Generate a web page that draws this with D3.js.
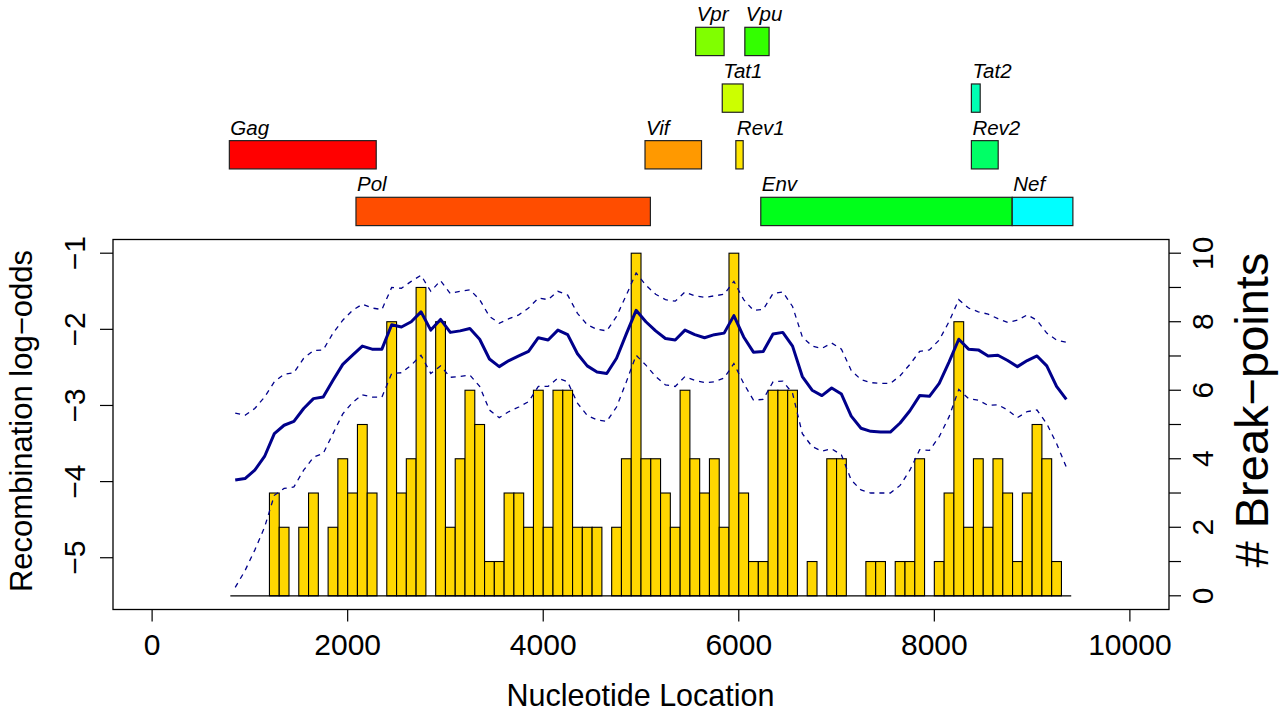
<!DOCTYPE html>
<html>
<head>
<meta charset="utf-8">
<script src="https://cdn.jsdelivr.net/npm/d3@7"></script>
<style>
  body { margin: 0; background: #fff; }
  text { font-family: "Liberation Sans", Arial, sans-serif; fill: #000; }
</style>
</head>
<body>
<div id="chart"></div>
<script>
// genes (HXB2 coordinates), listed in colour order
var geneNames = ["Gag", "Pol", "Vif", "Rev1", "Tat1", "Vpr", "Vpu", "Env", "Rev2", "Tat2", "Nef"];
var geneStart = [790, 2085, 5041, 5970, 5831, 5559, 6062, 6225, 8379, 8379, 8797];
var geneEnd   = [2292, 5096, 5619, 6045, 6045, 5850, 6310, 8795, 8653, 8469, 9417];
var geneRow   = [1, 0, 1, 1, 2, 3, 3, 0, 1, 2, 0];

// break-point counts in 100 nt windows, starting at 800
var binStarts = d3.range(800, 9400, 100);
var breakCounts = [
  0, 0, 0, 0, 3, 2, 0, 2, 3, 0,
  2, 4, 3, 5, 3, 0, 8, 3, 4, 9,
  0, 8, 2, 4, 6, 5, 1, 1, 3, 3,
  2, 6, 2, 6, 6, 2, 2, 2, 0, 2,
  4, 10, 4, 4, 3, 2, 6, 4, 3, 4,
  2, 10, 3, 1, 1, 6, 6, 6, 0, 1,
  0, 4, 4, 0, 0, 1, 1, 0, 1, 1,
  4, 0, 1, 3, 8, 2, 4, 2, 4, 3,
  1, 3, 5, 4, 1, 0
];

// recombination log-odds: estimate and band
var logOdds = [
  -3.98, -3.96, -3.85, -3.67, -3.37, -3.26, -3.21, -3.04, -2.91, -2.89,
  -2.67, -2.46, -2.34, -2.22, -2.26, -2.26, -1.94, -1.97, -1.90, -1.77,
  -2.01, -1.87, -2.04, -2.02, -1.99, -2.13, -2.39, -2.49, -2.41, -2.35,
  -2.29, -2.11, -2.14, -2.01, -2.07, -2.32, -2.48, -2.56, -2.58, -2.38,
  -2.06, -1.75, -1.90, -2.02, -2.12, -2.14, -2.01, -2.07, -2.11, -2.07,
  -2.05, -1.82, -2.10, -2.30, -2.29, -2.06, -2.04, -2.22, -2.62, -2.80,
  -2.87, -2.77, -2.85, -3.14, -3.30, -3.34, -3.35, -3.35, -3.23, -3.07,
  -2.87, -2.88, -2.71, -2.43, -2.13, -2.26, -2.27, -2.35, -2.34, -2.41,
  -2.49, -2.41, -2.35, -2.48, -2.75, -2.92
];
var logOddsUpper = [
  -3.10, -3.13, -3.04, -2.89, -2.69, -2.59, -2.57, -2.38, -2.28, -2.27,
  -2.05, -1.88, -1.75, -1.67, -1.72, -1.74, -1.45, -1.46, -1.37, -1.29,
  -1.50, -1.36, -1.53, -1.50, -1.48, -1.61, -1.83, -1.92, -1.86, -1.81,
  -1.72, -1.59, -1.61, -1.50, -1.55, -1.79, -1.94, -2.00, -2.02, -1.83,
  -1.55, -1.26, -1.42, -1.54, -1.61, -1.63, -1.51, -1.56, -1.58, -1.56,
  -1.54, -1.37, -1.61, -1.75, -1.74, -1.53, -1.51, -1.70, -2.10, -2.22,
  -2.25, -2.18, -2.26, -2.54, -2.66, -2.70, -2.71, -2.71, -2.61, -2.46,
  -2.29, -2.27, -2.14, -1.90, -1.61, -1.72, -1.77, -1.80, -1.86, -1.91,
  -1.88, -1.81, -1.88, -2.05, -2.14, -2.17
];
var logOddsLower = [
  -5.39, -5.17, -4.90, -4.60, -4.18, -4.09, -4.07, -3.85, -3.68, -3.63,
  -3.37, -3.11, -2.96, -2.86, -2.89, -2.89, -2.58, -2.57, -2.47, -2.34,
  -2.58, -2.48, -2.63, -2.62, -2.60, -2.75, -3.06, -3.16, -3.08, -3.02,
  -2.95, -2.75, -2.75, -2.64, -2.69, -2.97, -3.13, -3.19, -3.21, -3.02,
  -2.69, -2.34, -2.47, -2.62, -2.73, -2.75, -2.62, -2.67, -2.70, -2.69,
  -2.64, -2.45, -2.71, -2.93, -2.92, -2.69, -2.68, -2.84, -3.37, -3.54,
  -3.60, -3.57, -3.65, -3.98, -4.11, -4.15, -4.15, -4.15, -4.05, -3.85,
  -3.58, -3.59, -3.41, -3.15, -2.79, -2.91, -2.93, -3.00, -2.99, -3.06,
  -3.16, -3.08, -3.06, -3.24, -3.50, -3.81
];

var xTicks = [0, 2000, 4000, 6000, 8000, 10000];
var leftTicks = [-1, -2, -3, -4, -5];
var rightTicks = d3.range(0, 11);
var rightLabels = [0, 2, 4, 6, 8, 10];
var binWidth = 100;

var width = 1283, height = 711;
var box = { left: 113, right: 1169, top: 239.5, bottom: 609.5 };

var svg = d3.select("#chart").append("svg")
    .attr("width", width)
    .attr("height", height);

//scales
var x = d3.scaleLinear().domain([-400, 10400]).range([box.left, box.right]);
var yLeft = d3.scaleLinear().domain([-5.68, -0.82]).range([box.bottom, box.top]);
var yRight = d3.scaleLinear().domain([-0.4, 10.4]).range([box.bottom, box.top]);
var rowY = d3.scaleLinear().domain([0, 3]).range([197.3, 27.3]);
var rowH = 28.3;
var geneColor = i => d3.hsl(i * 18, 1, 0.5).formatHex();

//gene map on top
var genes = svg.append("g");
geneNames.forEach(function(name, i) {
    genes.append("rect")
        .attr("x", x(geneStart[i]))
        .attr("y", rowY(geneRow[i]))
        .attr("width", x(geneEnd[i]) - x(geneStart[i]))
        .attr("height", rowH)
        .attr("fill", geneColor(i))
        .attr("stroke", "#222")
        .attr("stroke-width", 1.2);
    genes.append("text")
        .attr("x", x(geneStart[i]) + 1)
        .attr("y", rowY(geneRow[i]) - 6)
        .attr("font-size", "20.5px")
        .attr("font-style", "italic")
        .text(name);
});

//break-point bars (only non-empty windows)
var bins = breakCounts.map((c, i) => ({ start: binStarts[i], count: c }))
    .filter(d => d.count > 0);

svg.append("g").selectAll("rect")
    .data(bins)
    .enter().append("rect")
    .attr("x", d => x(d.start))
    .attr("y", d => yRight(d.count))
    .attr("width", d => x(d.start + binWidth) - x(d.start))
    .attr("height", d => yRight(0) - yRight(d.count))
    .attr("fill", "#FFD700")
    .attr("stroke", "#000")
    .attr("stroke-width", 1.1);

svg.append("line")
    .attr("x1", x(binStarts[0]))
    .attr("x2", x(binStarts[binStarts.length - 1] + binWidth))
    .attr("y1", yRight(0))
    .attr("y2", yRight(0))
    .attr("stroke", "#000")
    .attr("stroke-width", 1.3);

//log-odds lines
var line = d3.line()
    .x((d, i) => x(binStarts[i] + binWidth / 2))
    .y(d => yLeft(d));

svg.append("path").datum(logOddsUpper)
    .attr("d", line).attr("fill", "none")
    .attr("stroke", "#00008B").attr("stroke-width", 1.3)
    .attr("stroke-dasharray", "5,5");
svg.append("path").datum(logOddsLower)
    .attr("d", line).attr("fill", "none")
    .attr("stroke", "#00008B").attr("stroke-width", 1.3)
    .attr("stroke-dasharray", "5,5");
svg.append("path").datum(logOdds)
    .attr("d", line).attr("fill", "none")
    .attr("stroke", "#00008B").attr("stroke-width", 3)
    .attr("stroke-linejoin", "round");

//frame
svg.append("rect")
    .attr("x", box.left).attr("y", box.top)
    .attr("width", box.right - box.left)
    .attr("height", box.bottom - box.top)
    .attr("fill", "none")
    .attr("stroke", "#000")
    .attr("stroke-width", 1.3);

//bottom axis
var xAxis = svg.append("g");
xTicks.forEach(function(t) {
    xAxis.append("line")
        .attr("x1", x(t)).attr("x2", x(t))
        .attr("y1", box.bottom).attr("y2", box.bottom + 12)
        .attr("stroke", "#000").attr("stroke-width", 1.2);
    xAxis.append("text")
        .attr("x", x(t)).attr("y", 655)
        .attr("text-anchor", "middle")
        .attr("font-size", "30px")
        .text(t);
});
svg.append("text")
    .attr("x", (box.left + box.right) / 2 - 0.5)
    .attr("y", 706)
    .attr("text-anchor", "middle")
    .attr("font-size", "30.5px")
    .text("Nucleotide Location");

//left axis
var lAxis = svg.append("g");
leftTicks.forEach(function(t) {
    lAxis.append("line")
        .attr("x1", box.left - 13).attr("x2", box.left)
        .attr("y1", yLeft(t)).attr("y2", yLeft(t))
        .attr("stroke", "#000").attr("stroke-width", 1.2);
    lAxis.append("text")
        .attr("transform", "translate(85," + yLeft(t) + ") rotate(-90)")
        .attr("text-anchor", "middle")
        .attr("font-size", "30px")
        .text(String(t).replace("-", "\u2212"));
});
svg.append("text")
    .attr("transform", "translate(32,421) rotate(-90)")
    .attr("text-anchor", "middle")
    .attr("font-size", "31px")
    .text("Recombination log\u2212odds");

//right axis
var rAxis = svg.append("g");
rightTicks.forEach(function(t) {
    rAxis.append("line")
        .attr("x1", box.right).attr("x2", box.right + 12)
        .attr("y1", yRight(t)).attr("y2", yRight(t))
        .attr("stroke", "#000").attr("stroke-width", 1.2);
});
rightLabels.forEach(function(t) {
    rAxis.append("text")
        .attr("transform", "translate(1213," + yRight(t) + ") rotate(-90)")
        .attr("text-anchor", "middle")
        .attr("font-size", "30px")
        .text(t);
});
svg.append("text")
    .attr("transform", "translate(1268,410) rotate(-90)")
    .attr("text-anchor", "middle")
    .attr("font-size", "47px")
    .text("# Break\u2212points");
</script>
</body>
</html>
